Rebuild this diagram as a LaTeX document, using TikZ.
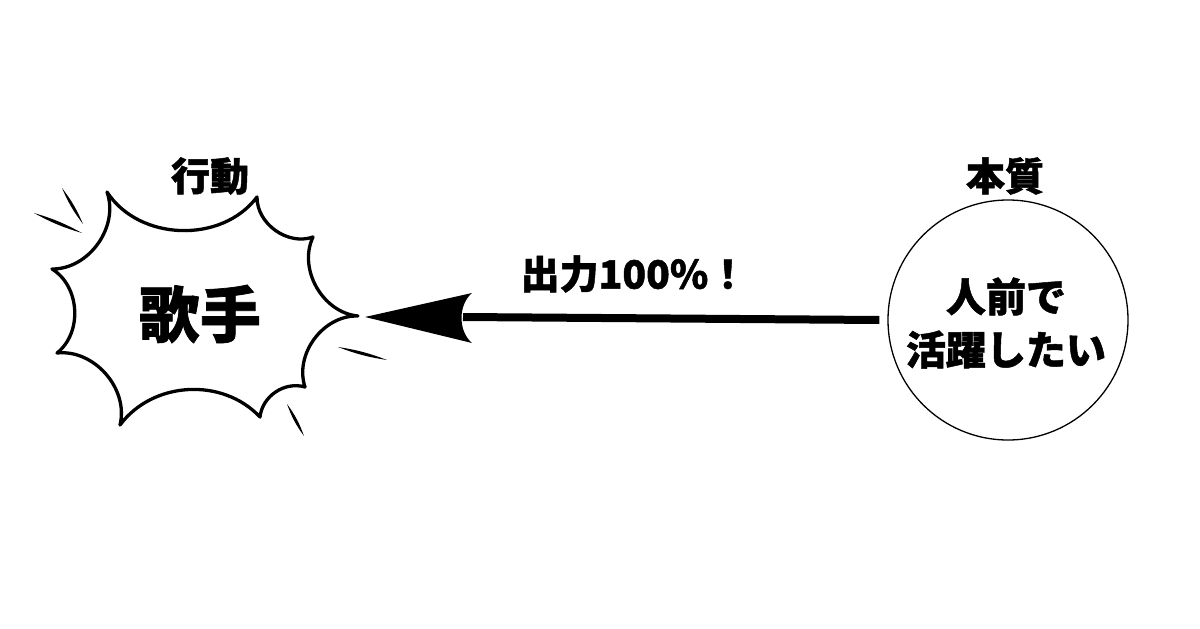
\documentclass[tikz,border=0pt]{standalone}
\usepackage{fontspec}
\newfontfamily\cjk{Noto Sans CJK JP Black}[FakeBold=1.2]
\tikzset{
  burst/.style={line width=3.3pt, line join=round},
  lbl/.style={font=\cjk\fontsize{39}{40}\selectfont, inner sep=0pt},
}
\begin{document}
\begin{tikzpicture}[x=1pt,y=-1pt]
\useasboundingbox (0,0) rectangle (1200,629);
% starburst
\coordinate (p1) at (107,192);
\coordinate (p2) at (257,197);
\coordinate (p3) at (313,237);
\coordinate (tipb) at (358,316);
\coordinate (p5) at (305,387);
\coordinate (p6) at (260,417);
\coordinate (p7) at (120,425);
\coordinate (p8) at (57,353);
\coordinate (p9) at (52,269);
\draw[burst] (p1) to[bend right=55] (p2) to[bend right=55] (p3) to[bend right=55] (tipb)
  to[bend right=55] (p5) to[bend right=50] (p6) to[bend right=50] (p7)
  to[bend right=55] (p8) to[bend right=55] (p9) to[bend right=55] (p1) -- cycle;
% tapered spikes
\coordinate (s1a) at (34,213); \coordinate (s1b) at (82,233);
\coordinate (s2a) at (62,188); \coordinate (s2b) at (83,224);
\coordinate (s3a) at (338,347); \coordinate (s3b) at (387,360);
\coordinate (s4a) at (287,404); \coordinate (s4b) at (304,436);
\fill (s1a) to[bend left=6] (s1b) to[bend left=6] (s1a);
\fill (s2a) to[bend left=7] (s2b) to[bend left=7] (s2a);
\fill (s3a) to[bend left=6] (s3b) to[bend left=6] (s3a);
\fill (s4a) to[bend left=8] (s4b) to[bend left=8] (s4a);
\node[font=\cjk\fontsize{61}{62}\selectfont, inner sep=0pt] (song) at (200,314) {歌手};
\node[lbl] (act) at (210,176) {行動};
% circle
\node[draw, circle, line width=1.3pt, minimum size=240pt, inner sep=0pt] (circ) at (1008,320) {};
\node[font=\cjk\fontsize{40}{53}\selectfont, align=center, inner sep=0pt] (want) at (1006,323) {人前で\\活躍したい};
\node[lbl] (ess) at (1005,176) {本質};
% arrow
\coordinate (tip) at (365,317);
\coordinate (back) at (463,317);
\draw[line width=8pt] ([xshift=-8pt]circ.west) -- (back);
\fill (tip) -- ++(107,-24) .. controls ++(-14,12) and ++(-14,-12) .. ++(0,50) -- cycle;
\node[lbl] (out) at (634,274) {出力100\%！};
\end{tikzpicture}
\end{document}
